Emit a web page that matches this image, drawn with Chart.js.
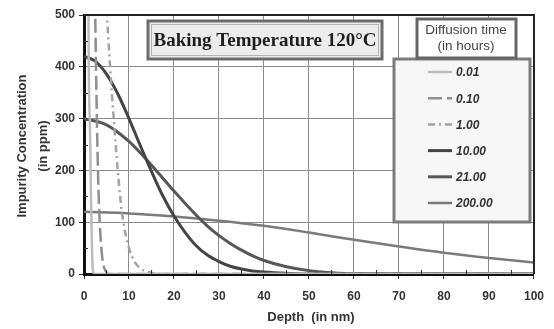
<!DOCTYPE html>
<html>
<head>
<meta charset="utf-8">
<script src="https://cdn.jsdelivr.net/npm/chart.js@4.4.1/dist/chart.umd.min.js"></script>
<style>
  body { margin: 0; background: #fff; }
  #wrap { position: relative; width: 554px; height: 329px; }
</style>
</head>
<body>
<div id="wrap"><canvas id="myChart" width="554" height="329"></canvas></div>
<script>
// diffusion times (hours) shown in the legend
const timeLabels = ["0.01", "0.10", "1.00", "10.00", "21.00", "200.00"];

// depth (nm) / concentration (ppm) read for each diffusion time
const depth001 = [0, 1.0, 1.3, 1.55, 1.75, 1.95, 2.3, 100];
const conc001 = [11000, 500, 300, 150, 60, 10, 0, 0];

const depth010 = [0, 2.5, 3.1, 3.5, 3.9, 4.3, 4.8, 5.5, 100];
const conc010 = [2400, 500, 200, 100, 45, 18, 6, 0, 0];

const depth100 = [0, 4.5, 5.1, 5.8, 6.6, 7.7, 8.4, 9.4, 10.6, 12.1, 14.7, 17, 100];
const conc100 = [1100, 600, 500, 400, 300, 180, 121, 70, 35, 14, 3, 0, 0];

const depth1000 = [0, 2.5, 5, 7.5, 10, 12.5, 15, 17.5, 20, 22.5, 25, 27.5, 30, 32.5, 35, 37.5, 40, 45, 50, 100];
const conc1000 = [420, 411, 386, 348, 300, 248, 198, 151, 112, 80, 54, 36, 24, 15, 9.5, 6, 4, 1.5, 0, 0];

const depth2100 = [0, 5, 10, 12.5, 15, 17.5, 20, 22.5, 25, 27.5, 30, 32.5, 35, 37.5, 40, 45, 50, 55, 60, 100];
const conc2100 = [300, 288, 256, 234, 210, 185, 160, 136, 113, 92, 74, 59, 46, 35, 26, 14, 6.5, 2.5, 0.5, 0];

const depth20000 = [0, 10, 20, 30, 40, 50, 60, 70, 80, 90, 100];
const conc20000 = [120, 117, 111, 103, 93, 80, 66, 53, 41, 31, 22];

// y ticks every 100 ppm, x ticks every 10 nm
const yTicks = [0, 100, 200, 300, 400, 500];
const xTicks = [0, 10, 20, 30, 40, 50, 60, 70, 80, 90, 100];

const depths = [depth001, depth010, depth100, depth1000, depth2100, depth20000];
const concs = [conc001, conc010, conc100, conc1000, conc2100, conc20000];

// line looks per series
const lineColors = ["#bcbcbc", "#8e8e8e", "#a2a2a2", "#444444", "#575757", "#7a7a7a"];
const lineWidths = [2.5, 2.5, 2.5, 3, 3, 2.5];
const lineDashes = [[], [14, 5], [7, 4, 2, 4], [], [], []];

const datasets = timeLabels.map(function (label, i) {
  return {
    label: label,
    data: depths[i].map(function (d, j) { return { x: d, y: concs[i][j] }; }),
    borderColor: lineColors[i],
    borderWidth: lineWidths[i],
    borderDash: lineDashes[i],
    pointRadius: 0,
    fill: false,
    cubicInterpolationMode: "monotone",
  };
});

const font = "'Liberation Sans', Arial, sans-serif";

// frame, minor ticks, axis titles, title box and legend box
const decorations = {
  id: "decorations",
  afterDraw: function (chart) {
    const c = chart.ctx;
    const a = chart.chartArea;
    const xs = chart.scales.x;
    const ys = chart.scales.y;
    c.save();

    // top and right border of the plot
    c.strokeStyle = "#222";
    c.lineWidth = 2;
    c.beginPath();
    c.moveTo(a.left, a.top);
    c.lineTo(a.right, a.top);
    c.lineTo(a.right, a.bottom);
    c.stroke();

    // minor ticks inside the axes
    c.strokeStyle = "#333";
    c.lineWidth = 1;
    c.beginPath();
    for (let v = 5; v < 100; v += 10) {
      const px = Math.round(xs.getPixelForValue(v)) + 0.5;
      c.moveTo(px, a.bottom);
      c.lineTo(px, a.bottom - 4);
    }
    for (let v = 50; v < 500; v += 100) {
      const py = Math.round(ys.getPixelForValue(v)) + 0.5;
      c.moveTo(a.left, py);
      c.lineTo(a.left + 4, py);
    }
    c.stroke();

    // axis titles
    c.fillStyle = "#333";
    c.font = "bold 13px " + font;
    c.textAlign = "center";
    c.textBaseline = "middle";
    c.fillText("Depth  (in nm)", 311, 317);
    c.save();
    c.translate(22, 146);
    c.rotate(-Math.PI / 2);
    c.fillText("Impurity Concentration", 0, 0);
    c.fillText("(in ppm)", 0, 21);
    c.restore();

    // title box
    c.fillStyle = "#ececec";
    c.fillRect(148, 21, 234, 38);
    c.strokeStyle = "#6c6c6c";
    c.lineWidth = 3;
    c.strokeRect(148, 21, 234, 38);
    c.strokeStyle = "#b4b4b4";
    c.lineWidth = 1;
    c.strokeRect(151.5, 24.5, 227, 31);
    c.fillStyle = "#1e1e1e";
    c.font = "bold 19px 'Liberation Serif', 'Times New Roman', serif";
    c.fillText("Baking Temperature 120°C", 265, 41);

    // legend box
    c.fillStyle = "#f6f6f6";
    c.fillRect(394, 59, 136, 163);
    c.strokeStyle = "#7c7c7c";
    c.lineWidth = 3;
    c.strokeRect(394, 59, 136, 163);

    // legend header
    c.fillStyle = "#fff";
    c.fillRect(417, 19, 99, 39);
    c.strokeStyle = "#666";
    c.lineWidth = 3;
    c.strokeRect(417, 19, 99, 39);
    c.fillStyle = "#444";
    c.font = "13.5px " + font;
    c.fillText("Diffusion time", 466, 30);
    c.fillText("(in hours)", 466, 46);

    // legend entries
    c.textAlign = "left";
    c.font = "italic bold 12px " + font;
    chart.data.datasets.forEach(function (ds, i) {
      const y = 72 + i * 26.2;
      c.strokeStyle = ds.borderColor;
      c.lineWidth = ds.borderWidth;
      c.setLineDash(ds.borderDash);
      c.beginPath();
      c.moveTo(428, y);
      c.lineTo(452, y);
      c.stroke();
      c.setLineDash([]);
      c.fillStyle = "#333";
      c.fillText(ds.label, 456, y + 1);
    });

    c.restore();
  },
};

const ctx = document.getElementById("myChart");
const myChart = new Chart(ctx, {
  type: "line",
  data: { datasets: datasets },
  options: {
    responsive: false,
    animation: false,
    layout: { padding: { left: 0, top: 15, right: 16, bottom: 0 } },
    plugins: {
      legend: { display: false },
      tooltip: { enabled: false },
    },
    scales: {
      x: {
        type: "linear",
        min: 0,
        max: 100,
        afterFit: function (s) { s.height = 55; },
        afterBuildTicks: function (s) { s.ticks = xTicks.map(function (v) { return { value: v }; }); },
        border: { color: "#111", width: 3 },
        grid: { color: "#8c8c8c", lineWidth: 1, tickLength: 5, tickColor: "#333" },
        ticks: {
          color: "#333",
          padding: 10,
          maxRotation: 0,
          font: { size: 12, weight: "bold", family: font },
        },
      },
      y: {
        type: "linear",
        min: 0,
        max: 500,
        afterFit: function (s) { s.width = 84; },
        afterBuildTicks: function (s) { s.ticks = yTicks.map(function (v) { return { value: v }; }); },
        border: { color: "#111", width: 3 },
        grid: { color: "#8c8c8c", lineWidth: 1, tickLength: 5, tickColor: "#333" },
        ticks: {
          color: "#333",
          padding: 4,
          font: { size: 12, weight: "bold", family: font },
        },
      },
    },
  },
  plugins: [decorations],
});
</script>
</body>
</html>
